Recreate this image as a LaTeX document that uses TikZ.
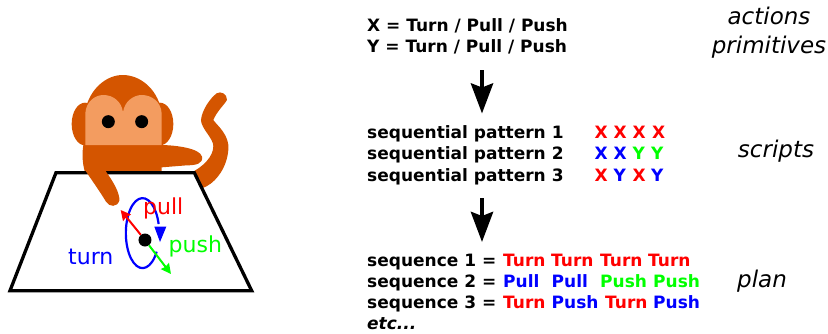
\documentclass[tikz,border=0pt]{standalone}
\usepackage{fontspec}
\setmainfont{DejaVu Sans}
\usetikzlibrary{arrows.meta}
\definecolor{monk}{HTML}{D45500}
\definecolor{face}{HTML}{F39C60}
\definecolor{pgreen}{HTML}{00FF00}
\tikzset{
  boldtxt/.style={anchor=base west,inner sep=0pt,font=\fontsize{17}{17}\selectfont\bfseries},
  redw/.style={boldtxt,text=red},
  bluew/.style={boldtxt,text=blue},
  greenw/.style={boldtxt,text=pgreen},
  cat/.style={anchor=base,inner sep=0pt,font=\fontsize{23}{23}\selectfont\itshape},
  act/.style={anchor=base west,inner sep=0pt,font=\fontsize{22}{22}\selectfont},
  flow/.style={line width=4.5pt,-{Stealth[length=30pt,width=22pt,inset=4pt]}},
  motion/.style={line width=2pt,-{Stealth[length=10pt,width=10pt,inset=1pt]}},
  eye/.style={circle,fill=black,inner sep=0pt,minimum size=13pt}
}
\begin{document}
\begin{tikzpicture}[x=1pt,y=-1pt]
\useasboundingbox (0,0) rectangle (828,333);
\begin{scope}[shift={(0,60)},x=0.33333pt,y=-0.33333pt]
 % tail
 \fill[monk] (650,100) .. controls (662,92) and (682,102) .. (681,120)
   .. controls (672,135) and (650,155) .. (640,180)
   .. controls (650,195) and (690,225) .. (685,270)
   .. controls (680,330) and (640,375) .. (605,385)
   -- (570,340) .. controls (610,320) and (640,290) .. (640,258)
   .. controls (640,235) and (603,205) .. (603,180)
   .. controls (606,150) and (630,115) .. (650,100) -- cycle;
 % ears
 \fill[monk] (255,192) ellipse[x radius=40,y radius=64];
 \fill[monk] (480,192) ellipse[x radius=40,y radius=64];
 % head and body
 \fill[monk] (256,150) .. controls (270,85) and (320,45) .. (368,45)
   .. controls (420,45) and (470,85) .. (484,150) -- (485,345) -- (256,345) -- cycle;
 \fill[monk] (250,255) -- (485,255) .. controls (530,256) and (600,265) .. (606,290)
   .. controls (610,310) and (590,316) .. (560,316)
   -- (485,322) -- (300,345) -- (258,345) .. controls (248,320) and (245,285) .. (250,255) -- cycle;
 % face
 \fill[face] (256,255) -- (256,160) .. controls (258,125) and (285,105) .. (310,105)
   .. controls (340,105) and (365,125) .. (369,157)
   .. controls (373,125) and (400,105) .. (425,105)
   .. controls (455,105) and (483,125) .. (485,160) -- (485,255) -- cycle;
 \node[eye] (eyeL) at (325,185) {};
 \node[eye] (eyeR) at (425,185) {};
 % table
 \filldraw[fill=white,draw=black,line width=3.3pt,line join=miter]
   (168,338) -- (583,338) -- (755,692) -- (30,692) -- cycle;
 % arm over table
 \fill[monk] (256,300) -- (255,330) .. controls (275,360) and (300,395) .. (318,425)
   .. controls (328,442) and (352,442) .. (358,422)
   .. controls (360,400) and (340,365) .. (318,335) -- (320,300) -- cycle;
 % turn ellipse
 \coordinate (turnS) at (470,575);
 \draw[blue,line width=2.2pt] (turnS) arc[start angle=32,end angle=345,x radius=50,y radius=105];
 \fill[blue] (463,500) -- (499,500) -- (480,546) -- cycle;
 % object
 \node[circle,fill=black,inner sep=0pt,minimum size=13pt] (obj) at (435,540) {};
 \coordinate (pullE) at (362,450);
 \coordinate (pushE) at (513,642);
 \draw[motion,red] (obj) -- (pullE);
 \draw[motion,pgreen] (obj) -- (pushE);
\end{scope}
\node[act,text=red] (pull) at (143,214.5) {pull};
\node[act,text=pgreen] (push) at (168.5,252.5) {push};
\node[act,text=blue] (turn) at (68,264.5) {turn};
% primitives
\node[boldtxt] (l1) at (367,31) {X = Turn / Pull / Push};
\node[boldtxt] (l2) at (367,52) {Y = Turn / Pull / Push};
\node[cat] (c1) at (769,24) {actions};
\node[cat] (c2) at (769,53) {primitives};
\coordinate (a1s) at (482,70);
\coordinate (a1e) at (482,113.5);
\draw[flow] (a1s) -- (a1e);
% scripts
\node[boldtxt] (p1) at (367,138.5) {sequential pattern 1};
\node[boldtxt] (p2) at (367,159.5) {sequential pattern 2};
\node[boldtxt] (p3) at (367,181) {sequential pattern 3};
\node[redw] (x11) at (594.5,138.5) {X};
\node[redw] (x12) at (613.5,138.5) {X};
\node[redw] (x13) at (632.5,138.5) {X};
\node[redw] (x14) at (652,138.5) {X};
\node[bluew] (x21) at (594.5,159.5) {X};
\node[bluew] (x22) at (613.5,159.5) {X};
\node[greenw] (x23) at (632.5,159.5) {Y};
\node[greenw] (x24) at (651,159.5) {Y};
\node[redw] (x31) at (594.5,181) {X};
\node[bluew] (x32) at (613.5,181) {Y};
\node[redw] (x33) at (632.5,181) {X};
\node[bluew] (x34) at (651,181) {Y};
\node[cat] (c3) at (776,157) {scripts};
\coordinate (a2s) at (482,198);
\coordinate (a2e) at (482,242);
\draw[flow] (a2s) -- (a2e);
% plan
\node[boldtxt] (s1) at (367,266) {sequence 1 =};
\node[boldtxt] (s2) at (367,287) {sequence 2 =};
\node[boldtxt] (s3) at (367,308) {sequence 3 =};
\node[boldtxt,font=\fontsize{17}{17}\selectfont\bfseries\itshape] (s4) at (367,329.5) {etc...};
\node[redw] (w11) at (503,266) {Turn};
\node[redw] (w12) at (551,266) {Turn};
\node[redw] (w13) at (600,266) {Turn};
\node[redw] (w14) at (648,266) {Turn};
\node[bluew] (w21) at (503,287) {Pull};
\node[bluew] (w22) at (551.5,287) {Pull};
\node[greenw] (w23) at (600,287) {Push};
\node[greenw] (w24) at (653,287) {Push};
\node[redw] (w31) at (503,308) {Turn};
\node[bluew] (w32) at (551.5,308) {Push};
\node[redw] (w33) at (605,308) {Turn};
\node[bluew] (w34) at (653,308) {Push};
\node[cat,anchor=base west] (c4) at (737,287) {plan};
\end{tikzpicture}
\end{document}
